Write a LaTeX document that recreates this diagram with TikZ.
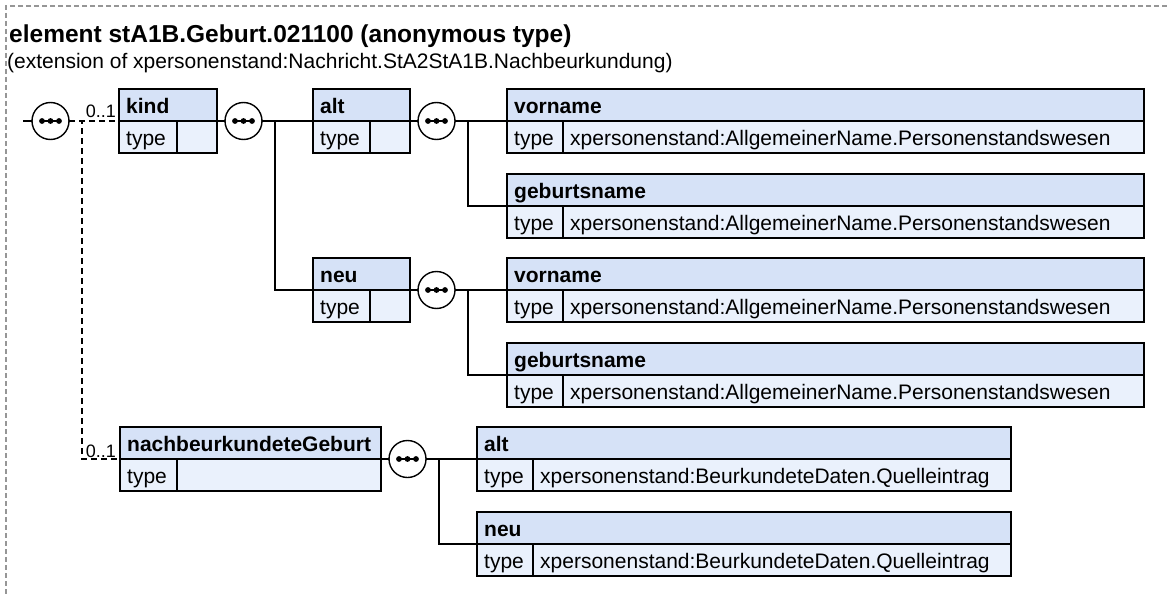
\documentclass[tikz,border=0pt]{standalone}
\usepackage{fontspec}
\setmainfont{Liberation Sans}
\usetikzlibrary{calc}
\definecolor{hdrblue}{RGB}{214,226,247}
\definecolor{rowblue}{RGB}{234,241,252}
\definecolor{bordergray}{RGB}{150,150,150}
\tikzset{
 hdr/.style={draw=black, fill=hdrblue, line width=1.4pt, rectangle, inner sep=0pt, outer sep=0pt, minimum height=32pt},
 row/.style={draw=black, fill=rowblue, line width=1.4pt, rectangle, inner sep=0pt, outer sep=0pt, minimum height=32pt},
 btxt/.style={inner sep=0pt, anchor=base west, font=\fontsize{21}{25}\selectfont\bfseries},
 rtxt/.style={inner sep=0pt, anchor=base west, font=\fontsize{21}{25}\selectfont},
 seq/.style={circle, draw=black, fill=white, line width=1.4pt, minimum size=37pt, inner sep=0pt, outer sep=0pt},
 conn/.style={draw=black, line width=1.4pt},
 opt/.style={conn, dash pattern=on 6pt off 4pt},
 occ/.style={inner sep=0pt, anchor=base east, font=\fontsize{18}{21}\selectfont},
}
\newcommand\elbox[7]{%
 \node[hdr, minimum width={#3-#2}, anchor=north west] (#1) at (#2,#4) {};
 \node[row, minimum width={#5-#2}, anchor=north west] (#1t) at (#1.south west) {};
 \node[row, minimum width={#3-#5}, anchor=north west] (#1v) at (#1t.north east) {};
 \node[btxt] at ($(#1.north west)+(7,24)$) {#6};
 \node[rtxt] at ($(#1t.north west)+(7,24)$) {type};
 \node[rtxt] at ($(#1v.north west)+(7,24)$) {#7};
}
\newcommand\seqnode[2]{%
 \node[seq] (#1) at #2 {};
 \fill ($(#1.center)+(-8.5,0)$) circle[radius=2.9pt];
 \fill (#1.center) circle[radius=2.9pt];
 \fill ($(#1.center)+(8.5,0)$) circle[radius=2.9pt];
 \draw[line width=1.6pt] ($(#1.center)+(-8.5,0)$) -- ($(#1.center)+(8.5,0)$);
}
\begin{document}
\begin{tikzpicture}[x=1pt,y=-1pt]
\useasboundingbox (0,0) rectangle (1167,594);
\draw[bordergray, line width=1.2pt, dash pattern=on 5pt off 3pt] (1167,6) -- (6,6) -- (6,594);
\node[anchor=base west, inner sep=0pt, font=\fontsize{24.5}{29}\selectfont\bfseries] (title) at (9,43) {element stA1B.Geburt.021100 (anonymous type)};
\node[anchor=base west, inner sep=0pt, font=\fontsize{21}{25}\selectfont] (sub) at (7,69) {(extension of xpersonenstand:Nachricht.StA2StA1B.Nachbeurkundung)};

% boxes
\elbox{kind}{119}{217}{89}{177}{kind}{}
\elbox{alt}{313}{410}{89}{370}{alt}{}
\elbox{neu}{313}{410}{258}{370}{neu}{}
\elbox{vorA}{507}{1144}{89}{563}{vorname}{xpersonenstand:AllgemeinerName.Personenstandswesen}
\elbox{gebA}{507}{1144}{174}{563}{geburtsname}{xpersonenstand:AllgemeinerName.Personenstandswesen}
\elbox{vorB}{507}{1144}{258}{563}{vorname}{xpersonenstand:AllgemeinerName.Personenstandswesen}
\elbox{gebB}{507}{1144}{343}{563}{geburtsname}{xpersonenstand:AllgemeinerName.Personenstandswesen}
\elbox{nb}{120}{381}{427}{177}{nachbeurkundeteGeburt}{}
\elbox{altC}{477}{1011}{427}{533}{alt}{xpersonenstand:BeurkundeteDaten.Quelleintrag}
\elbox{neuC}{477}{1011}{512}{533}{neu}{xpersonenstand:BeurkundeteDaten.Quelleintrag}

% connectors
\coordinate (in) at (23,121);
\draw[conn] (in) -- (32,121);
\draw[opt] (69,121) -- (kind.south west);
\draw[opt] (69,121) -- ++(13,0) |- (nb.south west);
\draw[conn] (kind.south east) -- (225,121);
\draw[conn] (262,121) -- (alt.south west);
\draw[conn] (262,121) -- ++(13,0) |- (neu.south west);
\draw[conn] (alt.south east) -- (418,121);
\draw[conn] (455,121) -- (vorA.south west);
\draw[conn] (455,121) -- ++(13,0) |- (gebA.south west);
\draw[conn] (neu.south east) -- (418,290);
\draw[conn] (455,290) -- (vorB.south west);
\draw[conn] (455,290) -- ++(13,0) |- (gebB.south west);
\draw[conn] (nb.south east) -- (389,459);
\draw[conn] (426,459) -- (altC.south west);
\draw[conn] (426,459) -- ++(13,0) |- (neuC.south west);

\seqnode{sA}{(50.5,121)}
\seqnode{sB}{(243.5,121)}
\seqnode{sC}{(436.5,121)}
\seqnode{sD}{(436.5,290)}
\seqnode{sE}{(407.5,459)}

\node[occ] (occA) at ($(kind.south west)+(-3,-4)$) {0..1};
\node[occ] (occB) at ($(nb.south west)+(-4,-2)$) {0..1};
\end{tikzpicture}
\end{document}
